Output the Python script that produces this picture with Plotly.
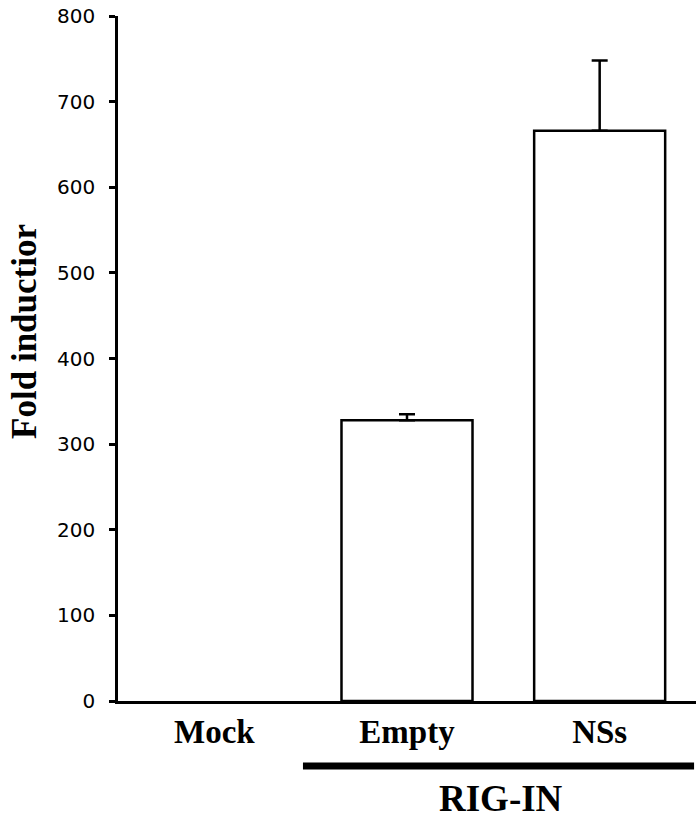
import plotly.graph_objects as go

categories = ["Mock", "Empty", "NSs"]
values = [0, 328, 666]
err_plus = [0, 7, 82]
y_ticks = [0, 100, 200, 300, 400, 500, 600, 700, 800]
y_title = "Fold inductior"
group_label = "RIG-IN"

serif = "Liberation Serif, Times New Roman, serif"

fig = go.Figure()
# control (no visible bar, no error bar)
fig.add_trace(go.Bar(
    x=categories[:1], y=values[:1],
    marker=dict(color="white", line=dict(color="black", width=0)),
    showlegend=False,
))
# RIG-IN groups with upper error bars
fig.add_trace(go.Bar(
    x=categories[1:], y=values[1:],
    marker=dict(color="white", line=dict(color="black", width=2.5)),
    error_y=dict(type="data", array=err_plus[1:], arrayminus=[0, 0], symmetric=False,
                 color="black", thickness=2.5, width=8),
    showlegend=False,
))

# bracket line under the RIG-IN group
fig.add_shape(type="line", xref="x", yref="paper",
              x0=0.46, x1=2.49, y0=-0.095, y1=-0.095,
              line=dict(color="black", width=7))
fig.add_annotation(text="<b>" + group_label + "</b>", xref="x", yref="paper",
                   x=1.49, y=-0.1425, yanchor="middle", xanchor="center", showarrow=False,
                   font=dict(family=serif, size=37, color="black"))
# y-axis title
fig.add_annotation(text="<b>" + y_title + "</b>", xref="paper", yref="paper",
                   x=-0.163, y=0.54, xanchor="center", yanchor="middle",
                   textangle=-90, showarrow=False,
                   font=dict(family=serif, size=35, color="black"))

fig.update_layout(
    width=700, height=820,
    margin=dict(l=117.5, r=3.5, t=12.7, b=119.3),
    paper_bgcolor="white", plot_bgcolor="white",
    bargap=0.32, barmode="overlay",
    font=dict(color="black"),
)
fig.update_xaxes(
    type="category", categoryorder="array", categoryarray=categories,
    range=[-0.5, 2.5], showline=True, linecolor="black", linewidth=2.5,
    ticks="", showgrid=False, zeroline=False,
    tickfont=dict(family=serif, size=33, color="black"),
    tickvals=categories, ticktext=["<b>%s</b>" % c for c in categories],
    ticklabelstandoff=0,
)
fig.update_yaxes(
    range=[0, 800], tickvals=y_ticks, showline=True, linecolor="black", linewidth=2.5,
    ticks="outside", ticklen=6, tickwidth=2.5, tickcolor="black",
    showgrid=False, zeroline=False,
    tickfont=dict(family="DejaVu Sans", size=20, color="black"),
    ticklabelstandoff=10,
)
fig.write_html("out.html", config={"displayModeBar": False},
               post_script="document.body.style.margin='0';")
